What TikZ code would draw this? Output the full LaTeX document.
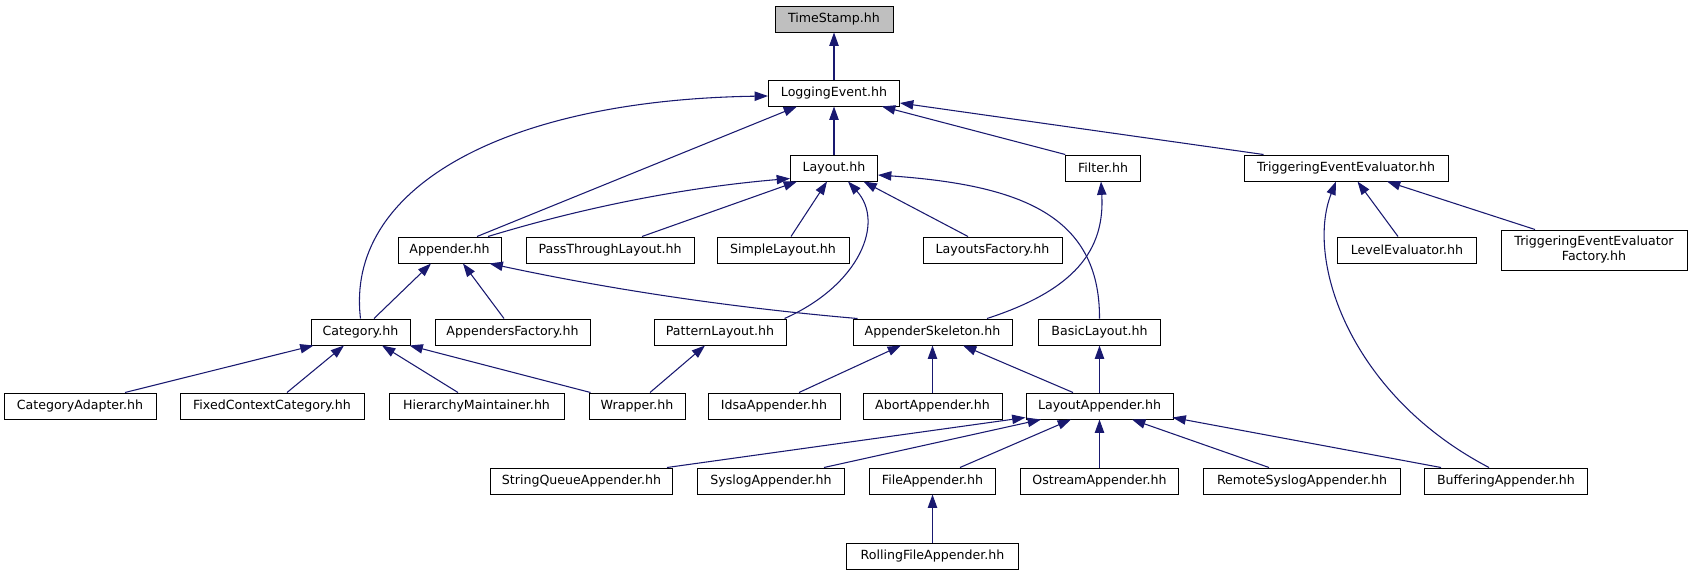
\documentclass[tikz,border=0pt]{standalone}
\usepackage{fontspec}
\setmainfont{DejaVu Sans}
\usetikzlibrary{arrows.meta,calc}
\definecolor{edgeblue}{HTML}{191970}
\definecolor{tsgray}{HTML}{BFBFBF}
\begin{document}
\begin{tikzpicture}[x=0.75pt,y=-0.75pt,
  box/.style={draw=black, line width=0.75pt, fill=white, inner sep=0pt, minimum height=19.5pt, font=\fontsize{9.45pt}{11.25pt}\selectfont, align=center},
  bw/.style={minimum width=#1*0.75pt},
  dep/.style={draw=edgeblue, line width=0.8pt, -{Triangle[length=10pt,width=7pt]}}]
\useasboundingbox[fill=white] (0,0) rectangle (1692,575);
% row 1-3
\node[box,bw=118,fill=tsgray] (ts) at (834,19) {TimeStamp.hh};
\node[box,bw=131] (le) at (834,93) {LoggingEvent.hh};
\node[box,bw=87] (lay) at (834,168) {Layout.hh};
\node[box,bw=74.5] (fil) at (1103,168) {Filter.hh};
\node[box,bw=204] (tee) at (1346,168) {TriggeringEventEvaluator.hh};
% row 4
\node[box,bw=103] (app) at (449.5,250) {Appender.hh};
\node[box,bw=168] (ptl) at (610,250) {PassThroughLayout.hh};
\node[box,bw=132] (sl) at (783,250) {SimpleLayout.hh};
\node[box,bw=139] (lf) at (992.5,250) {LayoutsFactory.hh};
\node[box,bw=138.5] (lev) at (1407,250) {LevelEvaluator.hh};
\node[box,bw=186,minimum height=30pt] (teef) at (1594,250) {TriggeringEventEvaluator\\Factory.hh};
% row 5
\node[box,bw=99] (cat) at (360.5,332) {Category.hh};
\node[box,bw=155] (af) at (512.5,332) {AppendersFactory.hh};
\node[box,bw=132] (pl) at (720,332) {PatternLayout.hh};
\node[box,bw=159] (as) at (932.5,332) {AppenderSkeleton.hh};
\node[box,bw=121.5] (bl) at (1099.5,332) {BasicLayout.hh};
% row 6
\node[box,bw=152] (ca) at (80,406) {CategoryAdapter.hh};
\node[box,bw=184] (fcc) at (272,406) {FixedContextCategory.hh};
\node[box,bw=175] (hm) at (476.5,406) {HierarchyMaintainer.hh};
\node[box,bw=96] (wr) at (637,406) {Wrapper.hh};
\node[box,bw=132] (ida) at (774,406) {IdsaAppender.hh};
\node[box,bw=139] (ab) at (932.5,406) {AbortAppender.hh};
\node[box,bw=147] (la) at (1099.5,406) {LayoutAppender.hh};
% row 7
\node[box,bw=182] (sqa) at (581.5,481) {StringQueueAppender.hh};
\node[box,bw=147] (sla) at (771,481) {SyslogAppender.hh};
\node[box,bw=126.5] (fa) at (932.5,481) {FileAppender.hh};
\node[box,bw=158.7] (oa) at (1099.5,481) {OstreamAppender.hh};
\node[box,bw=197.5] (rsa) at (1302,481) {RemoteSyslogAppender.hh};
\node[box,bw=162.5] (ba) at (1506,481) {BufferingAppender.hh};
% row 8
\node[box,bw=172] (rfa) at (932.5,556) {RollingFileAppender.hh};
% edges
\draw[dep] (le.north) -- (ts.south);
\draw[dep] (cat.north) .. controls (345,190) and (500,100) .. ($(le.west)+(0,3)$);
\draw[dep] ($(app.north)+(27.5,0)$) -- ($(le.south)+(-37,0)$);
\draw[dep] (lay.north) -- (le.south);
\draw[dep] (fil.north west) -- ($(le.south)+(48,0)$);
\draw[dep] ($(tee.north)+(-82.5,0)$) -- ($(le.east)+(0,10)$);
\draw[dep] ($(app.north)+(38.5,0)$) .. controls (588,206) and (689,187) .. ($(lay.south west)+(0,-3)$);
\draw[dep] ($(ptl.north)+(32,0)$) -- ($(lay.south)+(-37,0)$);
\draw[dep] ($(sl.north)+(8,0)$) -- ($(lay.south)+(-7,0)$);
\draw[dep] ($(pl.north east)+(-2,0)$) .. controls (860,285) and (885,222) .. ($(lay.south)+(14,0)$);
\draw[dep] ($(lf.north)+(-24.5,0)$) -- ($(lay.south)+(29.5,0)$);
\draw[dep] (bl.north) .. controls (1100,215) and (1020,185) .. ($(lay.east)+(0,7)$);
\draw[dep] ($(cat.north)+(13.5,0)$) -- ($(app.south)+(-18.5,0)$);
\draw[dep] ($(af.north)+(-8.5,0)$) -- ($(app.south)+(13.5,0)$);
\draw[dep] ($(as.north west)+(5,0)$) .. controls (735,308) and (613,290) .. ($(app.south)+(40,0)$);
\draw[dep] ($(as.north)+(54.5,0)$) .. controls (1075,290) and (1105,250) .. ($(fil.south)+(-2,0)$);
\draw[dep] ($(lev.north)+(-9,0)$) -- ($(tee.south)+(11.5,0)$);
\draw[dep] ($(teef.north)+(-59,0)$) -- ($(tee.south)+(41,0)$);
\draw[dep] ($(ba.north)+(-17,0)$) .. controls (1350,395) and (1305,260) .. ($(tee.south)+(-10,0)$);
\draw[dep] ($(wr.north west)+(2,0)$) -- ($(cat.south east)+(-1,0)$);
\draw[dep] ($(wr.north)+(13,0)$) -- ($(pl.south)+(-15,0)$);
\draw[dep] ($(ca.north)+(45,0)$) -- ($(cat.south west)+(3,0)$);
\draw[dep] ($(fcc.north)+(15,0)$) -- ($(cat.south)+(-16.5,0)$);
\draw[dep] ($(hm.north)+(-18.5,0)$) -- ($(cat.south)+(21.5,0)$);
\draw[dep] ($(ida.north)+(25,0)$) -- ($(as.south)+(-31.5,0)$);
\draw[dep] (ab.north) -- (as.south);
\draw[dep] ($(la.north)+(-26.5,0)$) -- ($(as.south)+(30.5,0)$);
\draw[dep] (la.north) -- (bl.south);
\draw[dep] ($(sqa.north)+(85.5,0)$) -- ($(la.south west)+(0,-2)$);
\draw[dep] ($(sla.north)+(53,0)$) -- ($(la.south)+(-58.5,0)$);
\draw[dep] ($(fa.north)+(27.5,0)$) -- ($(la.south)+(-28.5,0)$);
\draw[dep] (oa.north) -- (la.south);
\draw[dep] ($(rsa.north)+(-33,0)$) -- ($(la.south)+(32.5,0)$);
\draw[dep] ($(ba.north)+(-65,0)$) -- ($(la.south east)+(-1,-2)$);
\draw[dep] (rfa.north) -- (fa.south);
\end{tikzpicture}
\end{document}
